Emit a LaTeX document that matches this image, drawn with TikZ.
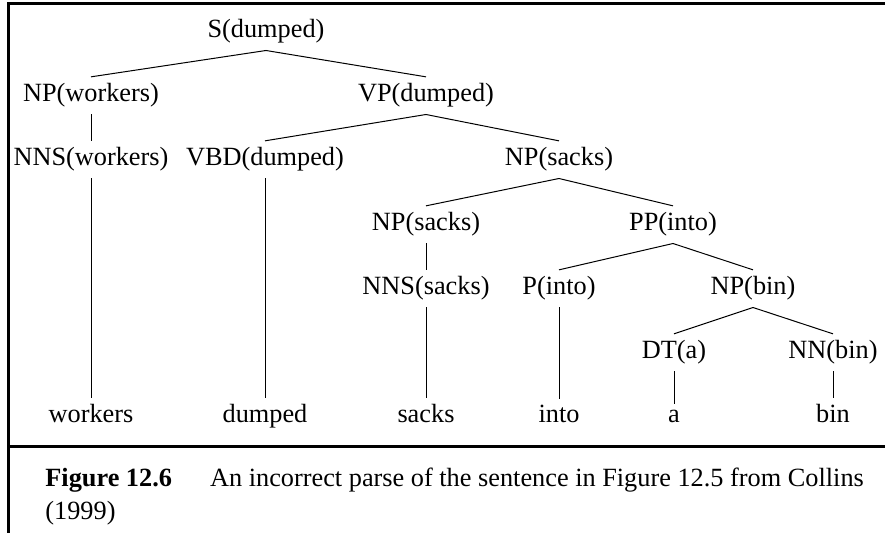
\documentclass[tikz,border=0pt]{standalone}
\usepackage{fontspec}
\setmainfont{Liberation Serif}
\tikzset{
  cat/.style={font=\fontsize{13.15}{16}\selectfont,inner xsep=2pt,inner ysep=3.25pt,anchor=base},
  word/.style={cat},
  branch/.style={line width=.5pt,draw=black},
  frame/.style={line width=1.5pt,draw=black},
  caption/.style={font=\fontsize{13.15}{16.5}\selectfont,align=left,anchor=north west,inner sep=0pt}
}
\begin{document}
\begin{tikzpicture}[x=.5pt,y=-.5pt]
  \useasboundingbox (0,0) rectangle (885,533);
  \draw[frame] (885,4)--(8,4)--(8,533);
  \draw[frame] (8,447)--(885,447);
  % categories, one row after the other
  \node[cat] (s) at (266,38) {S(dumped)};
  \node[cat] (npw) at (91,102) {NP(workers)};
  \node[cat] (vp) at (426,102) {VP(dumped)};
  \node[cat] (nnsw) at (91,166) {NNS(workers)};
  \node[cat] (vbd) at (265,166) {VBD(dumped)};
  \node[cat] (nps) at (559,166) {NP(sacks)};
  \node[cat] (npsacks) at (426,231) {NP(sacks)};
  \node[cat] (pp) at (673,231) {PP(into)};
  \node[cat] (nnss) at (426,295) {NNS(sacks)};
  \node[cat] (pinto) at (559,295) {P(into)};
  \node[cat] (npbin) at (753,295) {NP(bin)};
  \node[cat] (dt) at (674,359) {DT(a)};
  \node[cat] (nn) at (833,359) {NN(bin)};
  % the words
  \node[word] (workers) at (91,423) {workers};
  \node[word] (dumped) at (265,423) {dumped};
  \node[word] (sacks) at (426,423) {sacks};
  \node[word] (into) at (559,423) {into};
  \node[word] (a) at (674,423) {a};
  \node[word] (bin) at (833,423) {bin};
  \draw[branch] (s.south)--(npw.north);
  \draw[branch] (s.south)--(vp.north);
  \draw[branch] (npw.south)--(nnsw.north);
  \draw[branch] (vp.south)--(vbd.north);
  \draw[branch] (vp.south)--(nps.north);
  \draw[branch] (nps.south)--(npsacks.north);
  \draw[branch] (nps.south)--(pp.north);
  \draw[branch] (npsacks.south)--(nnss.north);
  \draw[branch] (pp.south)--(pinto.north);
  \draw[branch] (pp.south)--(npbin.north);
  \draw[branch] (npbin.south)--(dt.north);
  \draw[branch] (npbin.south)--(nn.north);
  \draw[branch] (nnsw.south)--(workers.north);
  \draw[branch] (vbd.south)--(dumped.north);
  \draw[branch] (nnss.south)--(sacks.north);
  \draw[branch] (pinto.south)--(into.north);
  \draw[branch] (dt.south)--(a.north);
  \draw[branch] (nn.south)--(bin.north);
  \node[caption] (cap) at (45,468) {\textbf{Figure 12.6}\hspace{1.45em}An incorrect parse of the sentence in Figure 12.5 from Collins\\(1999)};
\end{tikzpicture}
\end{document}
